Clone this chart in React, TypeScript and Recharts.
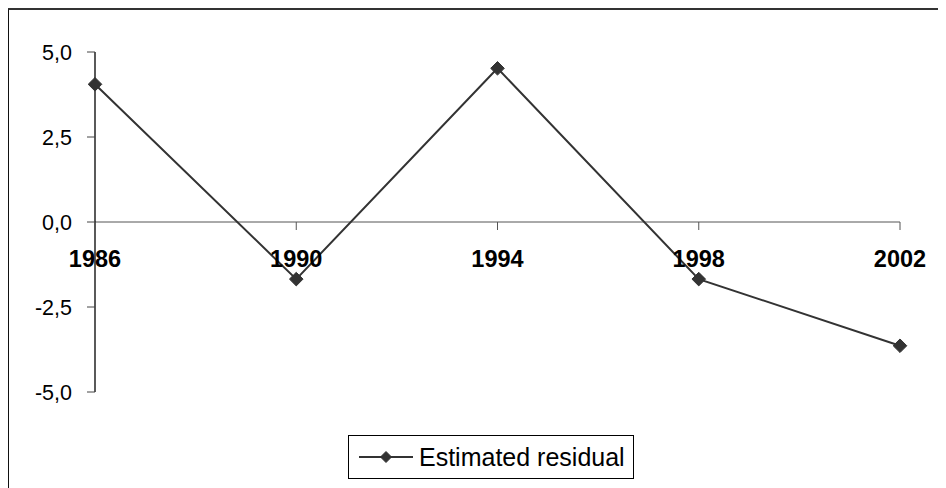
import React from "react";
import { LineChart, Line, XAxis, YAxis, ReferenceLine, Legend } from "recharts";

const years = [1986, 1990, 1994, 1998, 2002];
const residuals = [4.05, -1.68, 4.52, -1.68, -3.64];
const yTicks = [-5, -2.5, 0, 2.5, 5];
const seriesName = "Estimated residual";

const data = years.map((y, i) => ({ year: y, value: residuals[i] }));

const W = 937;
const H = 478;
const M_TOP = 42;
const M_RIGHT = 46;
const Y_W = 86;
const PLOT_H = 340;
const X_H = H - M_TOP - PLOT_H;
const Y_MIN = -5;
const Y_MAX = 5;
const ZERO_Y = M_TOP + (PLOT_H * (Y_MAX - 0)) / (Y_MAX - Y_MIN);
const FONT = "'Liberation Sans', Arial, sans-serif";
const INK = "#333333";

const fmt = (v: number) => v.toFixed(1).replace(".", ",");

const Diamond = (props: any) => {
  const { cx, cy, half = 6.8 } = props;
  if (cx == null || cy == null) return null;
  return (
    <path
      d={`M${cx},${cy - half} L${cx + half},${cy} L${cx},${cy + half} L${cx - half},${cy} Z`}
      fill={INK}
      stroke={INK}
      strokeWidth={1}
    />
  );
};

const XTick = (props: any) => {
  const { x, payload } = props;
  return (
    <g>
      <line x1={x} y1={ZERO_Y} x2={x} y2={ZERO_Y + 8} stroke="#555" strokeWidth={1} />
      <text
        x={x}
        y={ZERO_Y + 45}
        textAnchor="middle"
        fontFamily={FONT}
        fontWeight="bold"
        fontSize={23.5}
        fill="#000"
      >
        {payload.value}
      </text>
    </g>
  );
};

const LegendBox = () => (
  <div
    style={{
      width: 286,
      height: 44,
      boxSizing: "border-box",
      border: "1px solid #000",
      position: "relative",
      background: "#fff",
    }}
  >
    <svg width={70} height={44} style={{ position: "absolute", left: 0, top: 0 }}>
      <line x1={10} y1={21} x2={64} y2={21} stroke={INK} strokeWidth={2} />
      <Diamond cx={37} cy={21} half={5.5} />
    </svg>
    <span
      style={{
        position: "absolute",
        left: 70,
        top: 21,
        transform: "translateY(-50%)",
        fontFamily: FONT,
        fontSize: 25,
        color: "#000",
        whiteSpace: "nowrap",
        lineHeight: 1,
      }}
    >
      {seriesName}
    </span>
  </div>
);

export default function App() {
  return (
    <div
      style={{
        marginLeft: -1,
        width: 939,
        height: 480,
        borderTop: `2px solid ${INK}`,
        borderLeft: "2px solid #111",
        background: "#fff",
      }}
    >
      <LineChart
        width={W}
        height={H}
        data={data}
        margin={{ top: M_TOP, right: M_RIGHT, left: 0, bottom: 0 }}
      >
        <XAxis
          dataKey="year"
          type="number"
          domain={[1986, 2002]}
          ticks={years}
          axisLine={false}
          tickLine={false}
          height={X_H}
          tick={<XTick />}
          interval={0}
        />
        <YAxis
          type="number"
          domain={[Y_MIN, Y_MAX]}
          ticks={yTicks}
          width={Y_W}
          tickFormatter={fmt}
          axisLine={{ stroke: "#000", strokeWidth: 1.3 }}
          tickLine={{ stroke: "#444", strokeWidth: 1 }}
          tickSize={8}
          tickMargin={15}
          tick={{ fontFamily: FONT, fontSize: 21.5, fill: "#000" }}
          interval={0}
        />
        <ReferenceLine y={0} stroke="#555" strokeWidth={1} />
        <Line
          dataKey="value"
          name={seriesName}
          stroke={INK}
          strokeWidth={2}
          dot={(p: any) => <Diamond key={`d-${p.index}`} cx={p.cx} cy={p.cy} half={6.8} />}
          activeDot={false}
          isAnimationActive={false}
        />
        <Legend
          layout="horizontal"
          verticalAlign="middle"
          align="center"
          content={<LegendBox />}
          wrapperStyle={{ left: 339, top: 425, width: 286, height: 44 }}
        />
      </LineChart>
    </div>
  );
}
